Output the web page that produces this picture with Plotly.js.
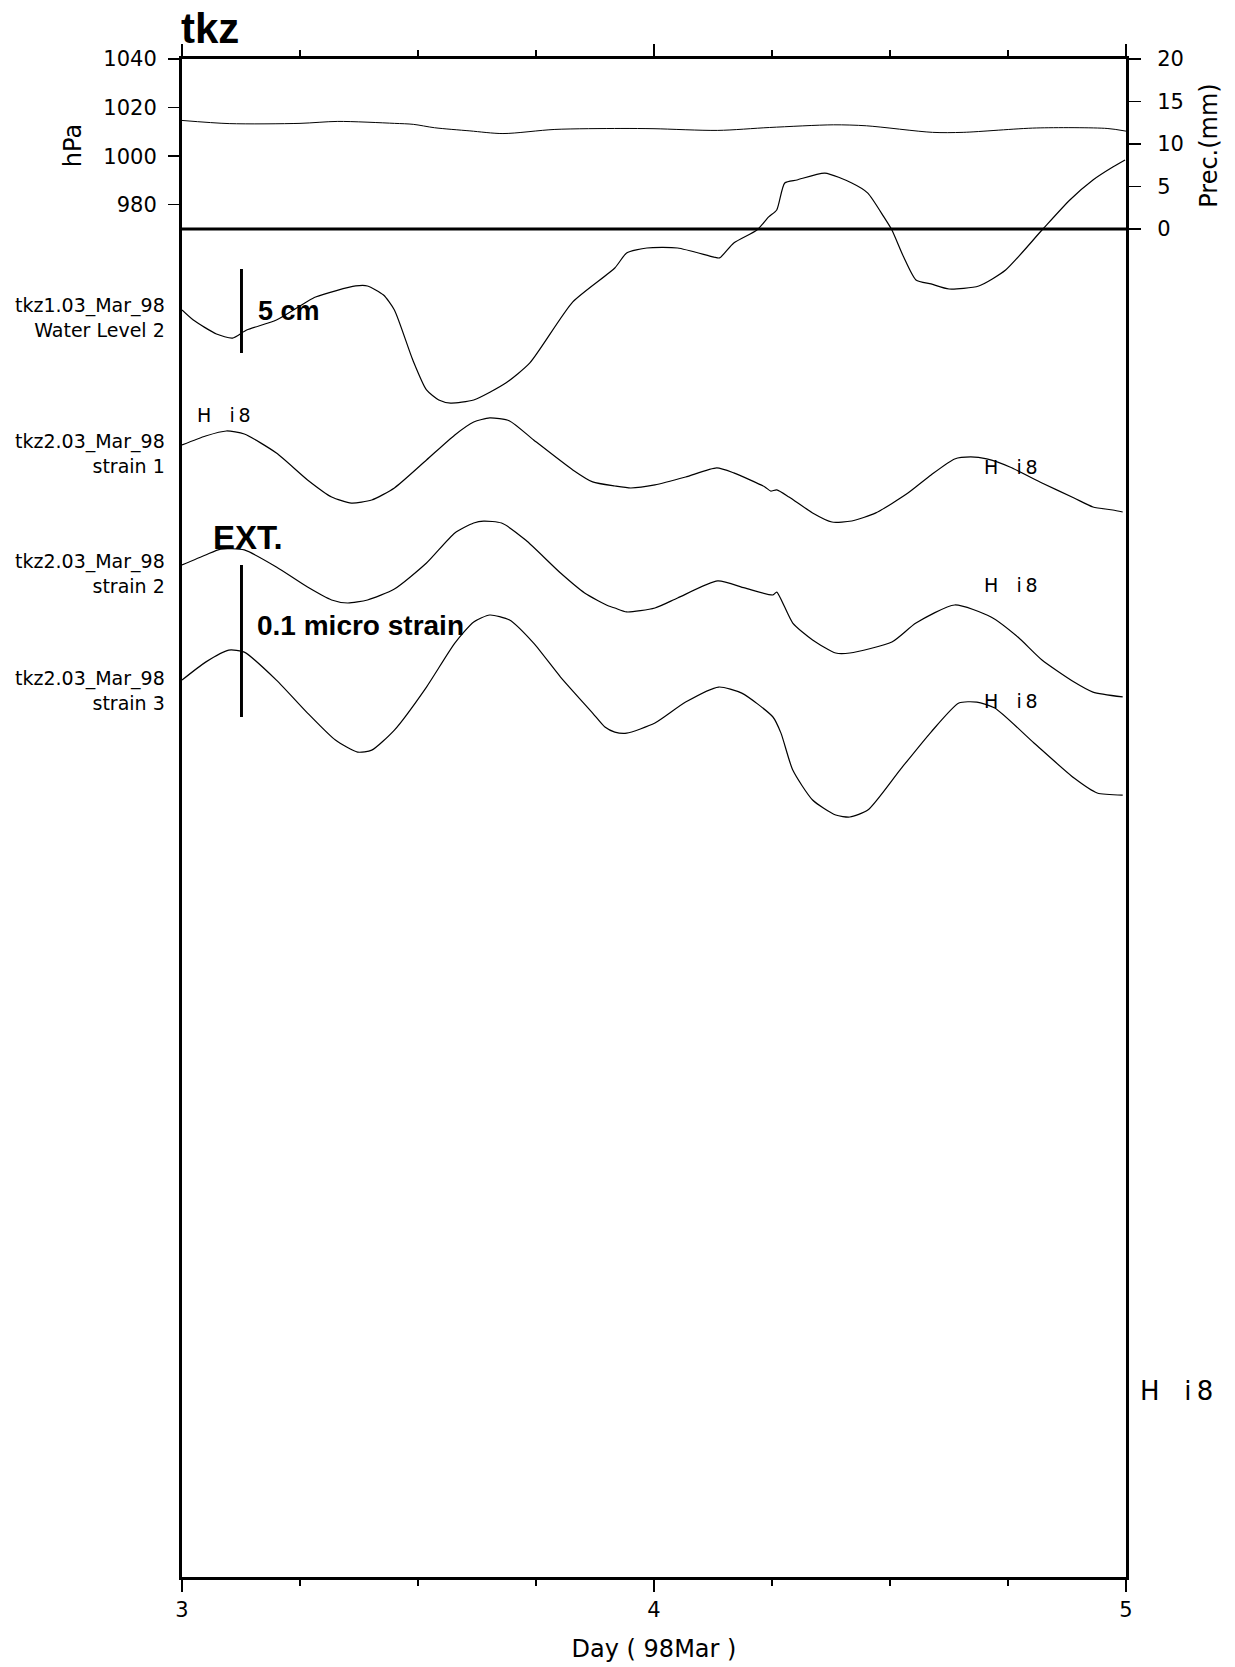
<!DOCTYPE html>
<html>
<head>
<meta charset="utf-8">
<script src="https://cdn.plot.ly/plotly-3.0.1.min.js"></script>
<style>html,body{margin:0;padding:0;background:#fff;}#chart{width:1235px;height:1667px;}</style>
</head>
<body>
<div id="chart"></div>
<script>
// ---- Air pressure (hPa) ----
const pressDay = [3.0, 3.10, 3.25, 3.33, 3.45, 3.49, 3.535, 3.61, 3.68, 3.79, 3.93, 4.0, 4.135, 4.245, 4.38, 4.45, 4.59, 4.655, 4.81, 4.96, 5.0];
const pressHPa = [1014.7, 1013.4, 1013.5, 1014.3, 1013.5, 1013.1, 1011.7, 1010.4, 1009.3, 1011.0, 1011.4, 1011.3, 1010.6, 1011.8, 1012.9, 1012.5, 1009.8, 1009.8, 1011.6, 1011.4, 1010.3];

// ---- Precipitation (mm) ----
const precDay = [3.0, 5.0];
const precMM = [0, 0];

// ---- Water level 2 (cm, relative) ----
const wlDay = [3.000, 3.024, 3.073, 3.107, 3.137, 3.200, 3.283, 3.368, 3.393, 3.427, 3.450, 3.489, 3.518, 3.544, 3.569, 3.618, 3.686, 3.737, 3.828, 3.917, 3.942, 3.985, 4.050, 4.127, 4.139, 4.169, 4.218, 4.243, 4.260, 4.277, 4.303, 4.362, 4.419, 4.453, 4.487, 4.504, 4.529, 4.555, 4.587, 4.625, 4.688, 4.745, 4.822, 4.881, 4.930, 4.972, 4.998];
const wlCm = [0, -0.60, -1.43, -1.67, -1.19, -0.60, 0.77, 1.43, 1.43, 0.89, 0.00, -2.98, -4.76, -5.36, -5.54, -5.36, -4.35, -3.15, 0.48, 2.50, 3.39, 3.69, 3.69, 3.15, 3.10, 3.99, 4.76, 5.54, 5.95, 7.56, 7.74, 8.15, 7.56, 6.96, 5.54, 4.76, 3.15, 1.79, 1.55, 1.25, 1.43, 2.38, 4.76, 6.55, 7.74, 8.51, 8.93];

// ---- Strain 1 (nano strain, relative) ----
const s1Day = [3.000, 3.050, 3.094, 3.132, 3.200, 3.266, 3.317, 3.359, 3.402, 3.450, 3.518, 3.578, 3.618, 3.652, 3.694, 3.745, 3.828, 3.870, 3.917, 3.951, 4.002, 4.067, 4.133, 4.169, 4.235, 4.247, 4.260, 4.286, 4.336, 4.377, 4.419, 4.470, 4.538, 4.587, 4.637, 4.671, 4.705, 4.754, 4.822, 4.890, 4.930, 4.972, 4.993];
const s1Val = [0, 5.9, 9.2, 7.2, -5.3, -23.0, -34.2, -38.2, -36.2, -28.3, -9.9, 6.6, 15.1, 17.8, 15.8, 3.3, -16.4, -24.3, -27.0, -28.3, -26.3, -21.1, -15.1, -18.4, -27.6, -30.3, -29.6, -34.2, -44.7, -50.7, -50.0, -44.7, -31.6, -19.7, -9.2, -7.9, -9.2, -14.5, -25.0, -34.9, -40.8, -42.8, -44.1];

// ---- Strain 2 (nano strain, relative) ----
const s2Day = [3.000, 3.050, 3.082, 3.132, 3.200, 3.266, 3.317, 3.351, 3.393, 3.450, 3.518, 3.578, 3.618, 3.639, 3.677, 3.728, 3.802, 3.853, 3.904, 3.917, 3.942, 4.002, 4.050, 4.135, 4.192, 4.252, 4.260, 4.294, 4.336, 4.385, 4.415, 4.504, 4.555, 4.637, 4.714, 4.771, 4.822, 4.890, 4.930, 4.993];
const s2Val = [0, 6.6, 10.5, 9.9, -1.3, -14.5, -23.0, -25.0, -23.0, -15.8, 1.3, 21.1, 27.6, 28.9, 27.6, 16.4, -5.3, -18.4, -27.0, -28.3, -30.9, -28.3, -21.7, -10.5, -15.1, -19.7, -17.8, -38.2, -49.3, -57.9, -57.9, -50.7, -38.2, -26.3, -34.2, -47.4, -62.5, -77.0, -83.6, -86.8];

// ---- Strain 3 (nano strain, relative) ----
const s3Day = [3.000, 3.050, 3.099, 3.132, 3.200, 3.266, 3.325, 3.372, 3.402, 3.450, 3.518, 3.578, 3.618, 3.652, 3.694, 3.745, 3.802, 3.870, 3.896, 3.917, 3.942, 4.002, 4.067, 4.137, 4.186, 4.252, 4.269, 4.294, 4.336, 4.385, 4.415, 4.453, 4.521, 4.587, 4.646, 4.684, 4.722, 4.805, 4.890, 4.939, 4.993];
const s3Val = [0, 11.8, 19.7, 18.4, 0, -21.7, -39.5, -47.4, -46.1, -32.9, -4.6, 24.3, 38.2, 42.8, 39.5, 24.3, 2.0, -21.7, -30.9, -34.2, -34.9, -28.3, -14.5, -4.6, -8.6, -24.3, -34.9, -59.2, -78.9, -88.8, -90.1, -85.5, -59.2, -34.2, -15.1, -14.5, -18.4, -41.4, -64.5, -74.3, -75.7];

// ---- Scale bars ----
const wlBarDay = [3.126, 3.126];
const wlBarCm = [-2.56, 2.44];          // 5 cm
const strainBarDay = [3.126, 3.126];
const strainBarVal = [0, -100];          // 0.1 micro strain

// ---- Labels ----
const xTickVals = [3, 4, 5];
const pressTicks = [980, 1000, 1020, 1040];
const precTicks = [0, 5, 10, 15, 20];
const seriesLabels = ['tkz1.03_Mar_98<br>Water Level 2', 'tkz2.03_Mar_98<br>strain 1', 'tkz2.03_Mar_98<br>strain 2', 'tkz2.03_Mar_98<br>strain 3'];
const markText = 'H\u00a0\u00a0\u00a0i\u20098';

const REG = 'DejaVu Sans';
const BOLD = 'Liberation Sans';
const line = {color: 'black', width: 1.2, shape: 'spline', smoothing: 0.6};

const traces = [
  {x: pressDay, y: pressHPa, xaxis: 'x', yaxis: 'y2', mode: 'lines', line: {color: 'black', width: 1, shape: 'spline', smoothing: 0.8}},
  {x: precDay, y: precMM, xaxis: 'x', yaxis: 'y3', mode: 'lines', line: {color: 'black', width: 3}},
  {x: wlDay, y: wlCm, xaxis: 'x', yaxis: 'y', mode: 'lines', line: line},
  {x: s1Day, y: s1Val, xaxis: 'x', yaxis: 'y4', mode: 'lines', line: line},
  {x: s2Day, y: s2Val, xaxis: 'x', yaxis: 'y5', mode: 'lines', line: line},
  {x: s3Day, y: s3Val, xaxis: 'x', yaxis: 'y6', mode: 'lines', line: line},
  {x: wlBarDay, y: wlBarCm, xaxis: 'x', yaxis: 'y', mode: 'lines', line: {color: 'black', width: 3}},
  {x: strainBarDay, y: strainBarVal, xaxis: 'x', yaxis: 'y5', mode: 'lines', line: {color: 'black', width: 3}}
];

const hidden = {overlaying: 'y', anchor: 'x', visible: false, showgrid: false, zeroline: false, fixedrange: true};

const lab = (text, x, y, extra) => Object.assign({text: text, xref: 'paper', yref: 'paper', x: x, y: y, yanchor: 'middle', showarrow: false}, extra);

const layout = {
  width: 1235, height: 1667,
  margin: {l: 182, r: 109, t: 59, b: 90, pad: 0},
  paper_bgcolor: 'white', plot_bgcolor: 'rgba(0,0,0,0)',
  showlegend: false,
  font: {family: REG, color: 'black', size: 18},
  title: {text: '<b>tkz</b>', font: {family: BOLD, size: 42, color: 'black'},
          xref: 'container', x: 181 / 1235, xanchor: 'left',
          yref: 'container', y: 1 - 28 / 1667, yanchor: 'middle'},
  xaxis: {
    range: [3, 5], tickvals: xTickVals, ticktext: xTickVals.map(String),
    ticks: 'outside', ticklen: 12, tickwidth: 1.5, tickcolor: 'black',
    showline: true, linewidth: 3, linecolor: 'black', mirror: 'ticks',
    showgrid: false, zeroline: false, anchor: 'y',
    minor: {dtick: 0.25, tick0: 3, ticks: 'outside', ticklen: 6, tickwidth: 1.5, tickcolor: 'black', showgrid: false},
    tickfont: {size: 21},
    title: {text: 'Day ( 98Mar )', font: {size: 24}, standoff: 19}
  },
  yaxis: {
    domain: [0, 1], range: [-75.42, 14.94], anchor: 'x',
    showline: true, linewidth: 3, linecolor: 'black', mirror: true,
    ticks: '', showticklabels: false, showgrid: false, zeroline: false
  },
  yaxis2: {
    domain: [0.88603, 1], range: [968.765, 1040], anchor: 'x', side: 'left',
    tickvals: pressTicks, ticks: 'outside', ticklen: 13, tickwidth: 1.5, tickcolor: 'black',
    showline: false, showgrid: false, zeroline: false,
    tickfont: {size: 21}, ticklabelstandoff: 7,
    title: {text: 'hPa', font: {size: 24}, standoff: 14}
  },
  yaxis3: {
    overlaying: 'y2', range: [-0.353, 20], anchor: 'x', side: 'right',
    tickvals: precTicks, ticks: 'outside', ticklen: 14, tickwidth: 1.5, tickcolor: 'black',
    showline: false, showgrid: false, zeroline: false,
    tickfont: {size: 21}, ticklabelstandoff: 12,
    title: {text: 'Prec.(mm)', font: {size: 24}, standoff: 17}
  },
  yaxis4: Object.assign({range: [-744.7, 253.9]}, hidden),
  yaxis5: Object.assign({range: [-665.8, 332.9]}, hidden),
  yaxis6: Object.assign({range: [-590.1, 408.6]}, hidden),
  annotations: [
    lab(seriesLabels[0], -0.0159, 0.830, {xanchor: 'right', align: 'right', font: {size: 19}}),
    lab(seriesLabels[1], -0.0159, 0.7398, {xanchor: 'right', align: 'right', font: {size: 19}}),
    lab(seriesLabels[2], -0.0159, 0.6611, {xanchor: 'right', align: 'right', font: {size: 19}}),
    lab(seriesLabels[3], -0.0159, 0.5837, {xanchor: 'right', align: 'right', font: {size: 19}}),
    lab('<b>5 cm</b>', 0.0784, 0.834, {xanchor: 'left', font: {family: BOLD, size: 27}}),
    lab('<b>EXT.</b>', 0.0305, 0.6845, {xanchor: 'left', font: {family: BOLD, size: 33}}),
    lab('<b>0.1 micro strain</b>', 0.0774, 0.6271, {xanchor: 'left', font: {family: BOLD, size: 28}}),
    lab(markText, 0.0138, 0.7655, {xanchor: 'left', font: {size: 19}}),
    lab(markText, 0.8475, 0.7312, {xanchor: 'left', font: {size: 19}}),
    lab(markText, 0.8475, 0.6535, {xanchor: 'left', font: {size: 19}}),
    lab(markText, 0.8475, 0.5771, {xanchor: 'left', font: {size: 19}}),
    lab(markText, 1.0128, 0.1225, {xanchor: 'left', font: {size: 26}})
  ]
};

Plotly.newPlot('chart', traces, layout, {staticPlot: true, displayModeBar: false});
</script>
</body>
</html>
